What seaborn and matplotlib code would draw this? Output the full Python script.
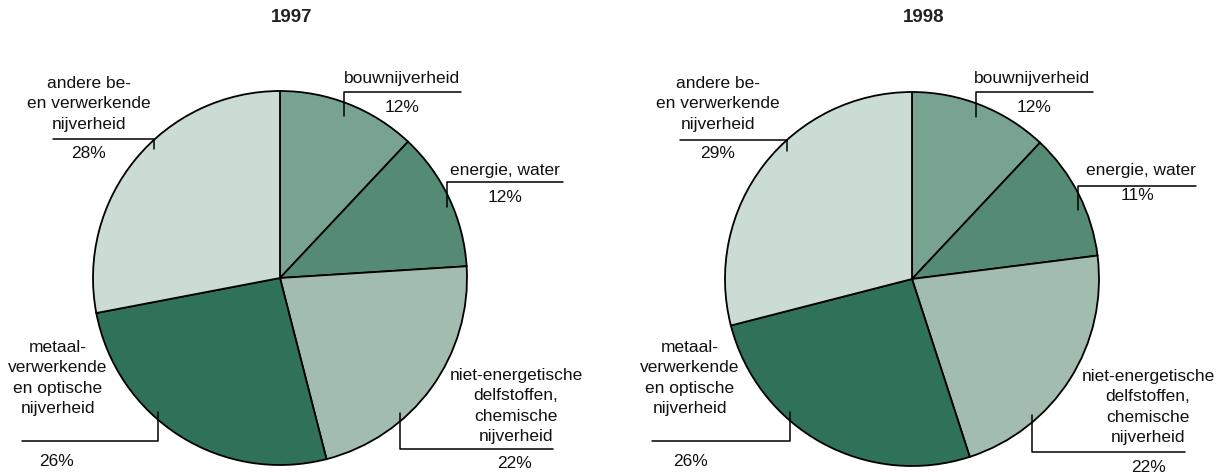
import numpy as np
import pandas as pd
import seaborn as sns
import matplotlib.pyplot as plt

# ---- data ----
sectors = ['bouwnijverheid', 'energie, water',
           'niet-energetische\ndelfstoffen,\nchemische\nnijverheid',
           'metaal-\nverwerkende\nen optische\nnijverheid',
           'andere be-\nen verwerkende\nnijverheid']
years = ['1997', '1998']
share_1997 = [12, 12, 22, 26, 28]
share_1998 = [12, 11, 22, 26, 29]
colors = ['#79a391', '#558a74', '#a2bdb0', '#30715a', '#cadcd4']

sns.set_theme(style='white')
plt.rcParams['font.family'] = ['Liberation Sans', 'DejaVu Sans']

W, H = 1224, 473
fig = plt.figure(figsize=(W / 100, H / 100), dpi=100)
ax = fig.add_axes([0, 0, 1, 1])

# label layout in pixel coords (x, y from top): text centre, leader polyline, pct position
layouts = {
    '1997': dict(centre=(280, 278), title=(292, 18), labels=[
        ((402, 79), [(461, 92), (344, 92), (344, 116)], (402, 107)),
        ((505, 170), [(563, 182), (447, 182), (447, 207)], (505, 197)),
        ((516, 406), [(400, 413), (400, 449), (553, 449)], (515, 464)),
        ((58, 378), [(22, 441), (158, 441), (158, 412)], (57, 461)),
        ((89, 104), [(53, 139), (154, 139), (154, 149)], (89, 153)),
    ]),
    '1998': dict(centre=(912, 279), title=(924, 18), labels=[
        ((1032, 79), [(1093, 92), (976, 92), (976, 117)], (1034, 107)),
        ((1141, 170), [(1196, 186), (1078, 186), (1078, 210)], (1137, 196)),
        ((1148, 407), [(1032, 415), (1032, 452), (1185, 452)], (1148, 467)),
        ((690, 378), [(652, 441), (790, 441), (790, 412)], (690, 461)),
        ((718, 104), [(680, 140), (787, 140), (787, 151)], (718, 153)),
    ]),
}

def Y(py):
    return H - py

for year, shares in zip(years, [share_1997, share_1998]):
    lay = layouts[year]
    cx, cy = lay['centre']
    ax.pie(shares, colors=colors, startangle=90, counterclock=False,
           center=(cx, Y(cy)), radius=187,
           wedgeprops=dict(edgecolor='black', linewidth=1.3))
    ax.text(lay['title'][0], Y(lay['title'][1]), year, ha='center', va='center',
            fontsize=13.5, fontweight='bold',
            family=['Liberation Sans Narrow', 'Liberation Sans', 'DejaVu Sans'],
            color='#222222')
    for name, val, (tpos, line, ppos) in zip(sectors, shares, lay['labels']):
        ax.text(tpos[0], Y(tpos[1]), name, ha='center', va='center',
                fontsize=12.5, linespacing=1.44, color='#111111')
        xs, ys = zip(*line)
        ax.plot(xs, [Y(v) for v in ys], color='black', linewidth=1.1)
        ax.text(ppos[0], Y(ppos[1]), f'{val}%', ha='center', va='center',
                fontsize=12.5, color='#111111')

ax.set_xlim(0, W)
ax.set_ylim(0, H)
ax.axis('off')
fig.savefig('out.png', dpi=100)
